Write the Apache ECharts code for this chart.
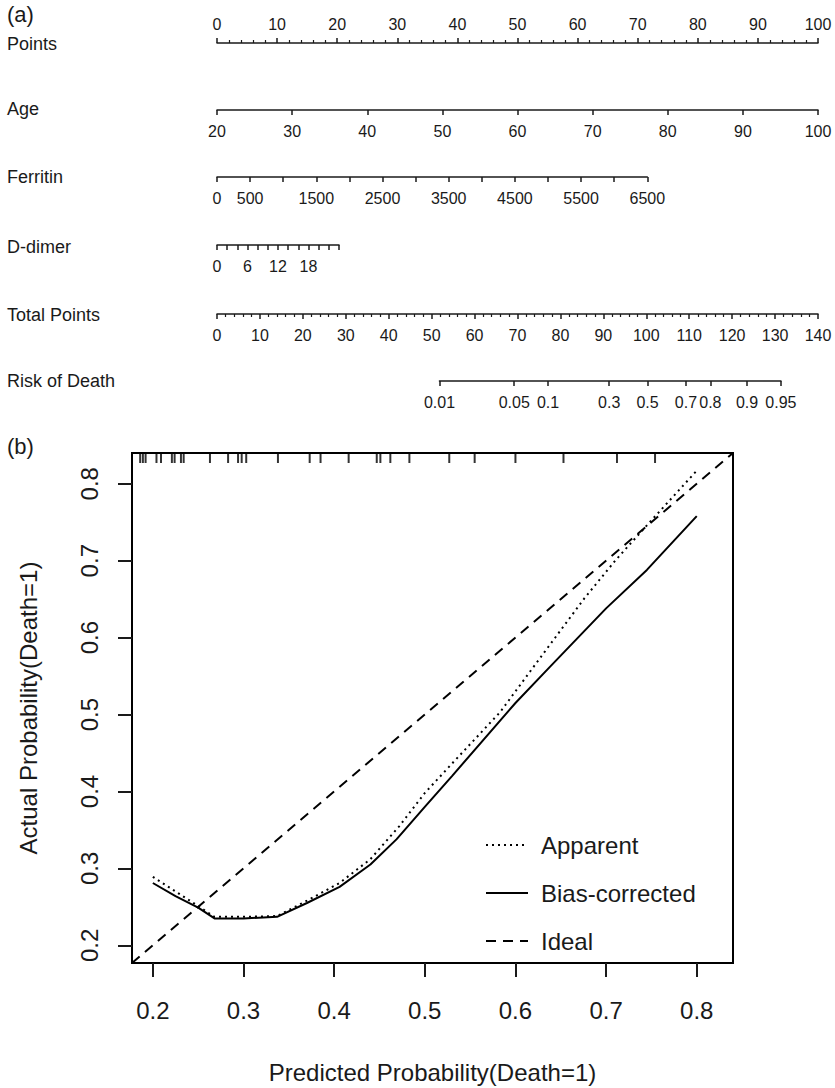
<!DOCTYPE html>
<html>
<head>
<meta charset="utf-8">
<script src="https://cdn.jsdelivr.net/npm/echarts@6/dist/echarts.min.js"></script>
<style>
  html, body { margin: 0; padding: 0; background: #fff; }
  #main { width: 835px; height: 1088px; }
</style>
</head>
<body>
<div id="main"></div>
<script>
// ---- (a) nomogram scales ----
const rowNames = ['Points', 'Age', 'Ferritin', 'D-dimer', 'Total Points', 'Risk of Death'];
const pointsRange = [0, 100];
const ageRange = [20, 100];
const ferritinRange = [0, 6500];
const ferritinLabels = [0, 500, 1500, 2500, 3500, 4500, 5500, 6500];
const ferritinMaxPoints = 71.6;   // points reached by ferritin 6500
const ddimerRange = [0, 24];
const ddimerLabels = [0, 6, 12, 18];
const ddimerMaxPoints = 20.3;     // points reached by d-dimer 24
const totalRange = [0, 140];
const riskValues = [0.01, 0.05, 0.1, 0.3, 0.5, 0.7, 0.8, 0.9, 0.95];
const riskAt50 = 100.3;           // total points where risk = 0.5
const riskPerLogit = 10.55;       // total points per logit unit

// ---- (b) calibration curve ----
const apparentX = [0.2, 0.225, 0.25, 0.268, 0.3, 0.337, 0.37, 0.406, 0.44, 0.472, 0.5, 0.533, 0.583, 0.63, 0.676, 0.71, 0.745, 0.8];
const apparentY = [0.289, 0.270, 0.251, 0.237, 0.237, 0.238, 0.258, 0.281, 0.312, 0.355, 0.398, 0.44, 0.503, 0.578, 0.651, 0.70, 0.746, 0.817];
const biasX = [0.2, 0.225, 0.25, 0.268, 0.3, 0.337, 0.37, 0.406, 0.44, 0.469, 0.5, 0.53, 0.6, 0.638, 0.7, 0.745, 0.8];
const biasY = [0.281, 0.264, 0.249, 0.235, 0.235, 0.237, 0.255, 0.276, 0.305, 0.338, 0.38, 0.42, 0.515, 0.562, 0.638, 0.688, 0.758];
const axisLims = [0.177, 0.84];
const probTicks = [0.2, 0.3, 0.4, 0.5, 0.6, 0.7, 0.8];
const rugX = [0.186, 0.189, 0.192, 0.204, 0.209, 0.221, 0.224, 0.231, 0.234, 0.263, 0.283, 0.294, 0.298, 0.303,
  0.338, 0.373, 0.385, 0.416, 0.447, 0.451, 0.462, 0.483, 0.527, 0.555, 0.600, 0.653, 0.712, 0.754];

const FONT = 'Liberation Sans, Arial, sans-serif';
const INK = '#1a1a1a';
const X0 = 217, W = 601;   // nomogram axis start and width of 100 points

const logit = p => Math.log(p / (1 - p));

let chart = echarts.init(document.getElementById('main'), null, { renderer: 'svg' });

// nomogram axis look
function nomoAxis(idx, range, opts) {
  return Object.assign({
    type: 'value', gridIndex: idx, min: range[0], max: range[1],
    position: 'bottom',
    axisLine: { show: true, lineStyle: { color: INK, width: 1.5 } },
    axisTick: { show: true, length: 5, lineStyle: { color: INK, width: 1.5 } },
    axisLabel: { show: true, fontSize: 16, color: INK, fontFamily: FONT, margin: 13, formatter: v => String(v) },
    splitLine: { show: false }
  }, opts);
}

let riskLo = riskAt50 + riskPerLogit * logit(riskValues[0]);
let riskHi = riskAt50 + riskPerLogit * logit(riskValues[riskValues.length - 1]);
let riskLogits = riskValues.map(logit);

let grids = [
  { left: X0, top: 42, width: W, height: 1 },
  { left: X0, top: 109, width: W, height: 1 },
  { left: X0, top: 176, width: W * ferritinMaxPoints / 100, height: 1 },
  { left: X0, top: 244, width: W * ddimerMaxPoints / 100, height: 1 },
  { left: X0, top: 313, width: W, height: 1 },
  { left: X0 + W * riskLo / 140, top: 380, width: W * (riskHi - riskLo) / 140, height: 1 },
  { left: 132, right: 102, top: 453, bottom: 125, show: true, borderColor: '#000', borderWidth: 2, backgroundColor: 'transparent' }
];

let xAxes = [
  nomoAxis(0, pointsRange, {
    position: 'top', interval: 10,
    axisLabel: { fontSize: 16, color: INK, fontFamily: FONT, margin: 10 },
    minorTick: { show: true, splitNumber: 5, length: 3, lineStyle: { color: INK, width: 1.2 } }
  }),
  nomoAxis(1, ageRange, { interval: 10 }),
  nomoAxis(2, ferritinRange, {
    interval: 500,
    axisLabel: { fontSize: 16, color: INK, fontFamily: FONT, margin: 13, customValues: ferritinLabels, formatter: v => String(v) }
  }),
  nomoAxis(3, ddimerRange, {
    interval: 2,
    axisLabel: { fontSize: 16, color: INK, fontFamily: FONT, margin: 13, customValues: ddimerLabels, formatter: v => String(v) }
  }),
  nomoAxis(4, totalRange, {
    interval: 10,
    minorTick: { show: true, splitNumber: 5, length: 3, lineStyle: { color: INK, width: 1.2 } }
  }),
  nomoAxis(5, [riskLogits[0], riskLogits[riskLogits.length - 1]], {
    axisTick: { show: true, length: 5, customValues: riskLogits, lineStyle: { color: INK, width: 1.5 } },
    axisLabel: {
      fontSize: 16, color: INK, fontFamily: FONT, margin: 13, customValues: riskLogits,
      formatter: v => {
        let i = riskLogits.findIndex(l => Math.abs(l - v) < 1e-6);
        return i >= 0 ? String(riskValues[i]) : '';
      }
    }
  }),
  {
    type: 'value', gridIndex: 6, min: axisLims[0], max: axisLims[1],
    name: 'Predicted Probability(Death=1)', nameLocation: 'middle', nameGap: 97,
    nameTextStyle: { fontSize: 24, color: INK, fontFamily: FONT },
    axisLine: { show: false },
    axisTick: { show: true, length: 14, customValues: probTicks, lineStyle: { color: INK, width: 2 } },
    axisLabel: { fontSize: 24, color: INK, fontFamily: FONT, margin: 35, customValues: probTicks, formatter: v => v.toFixed(1) },
    splitLine: { show: false }
  }
];

let yAxes = [0, 1, 2, 3, 4, 5].map(i => ({ type: 'value', gridIndex: i, min: 0, max: 1, show: false }));
yAxes.push({
  type: 'value', gridIndex: 6, min: axisLims[0], max: axisLims[1],
  name: 'Actual Probability(Death=1)', nameLocation: 'middle', nameGap: 92, nameRotate: 90,
  nameTextStyle: { fontSize: 24, color: INK, fontFamily: FONT },
  axisLine: { show: false },
  axisTick: { show: true, length: 14, customValues: probTicks, lineStyle: { color: INK, width: 2 } },
  axisLabel: { fontSize: 24, color: INK, fontFamily: FONT, margin: 31, rotate: 90, customValues: probTicks, formatter: v => v.toFixed(1) },
  splitLine: { show: false }
});

let apparentData = apparentX.map((x, i) => [x, apparentY[i]]);
let biasData = biasX.map((x, i) => [x, biasY[i]]);
let idealData = [[axisLims[0], axisLims[0]], [axisLims[1], axisLims[1]]];
let rugData = rugX.map(x => [x, axisLims[1]]);

let graphics = rowNames.map((name, i) => ({
  type: 'text', left: 7, top: [35, 100, 168, 238, 306, 372][i],
  style: { text: name, fontSize: 18, fill: INK, fontFamily: FONT }
}));
graphics.push({ type: 'text', left: 7, top: 3, style: { text: '(a)', fontSize: 22, fill: INK, fontFamily: FONT } });
graphics.push({ type: 'text', left: 7, top: 435, style: { text: '(b)', fontSize: 22, fill: INK, fontFamily: FONT } });

let option = {
  animation: false,
  backgroundColor: '#fff',
  textStyle: { fontFamily: FONT },
  grid: grids,
  xAxis: xAxes,
  yAxis: yAxes,
  graphic: graphics,
  legend: {
    data: ['Apparent', 'Bias-corrected', 'Ideal'],
    orient: 'vertical', left: 480, top: 828,
    itemWidth: 42, itemHeight: 14, itemGap: 24,
    itemStyle: { opacity: 0 },
    textStyle: { fontSize: 24, color: INK, fontFamily: FONT, padding: [0, 0, 0, 8] }
  },
  series: [
    {
      name: 'Apparent', type: 'line', xAxisIndex: 6, yAxisIndex: 6,
      data: apparentData, symbol: 'none',
      lineStyle: { color: '#000', width: 2, type: [2, 4] }, itemStyle: { color: '#000' }
    },
    {
      name: 'Bias-corrected', type: 'line', xAxisIndex: 6, yAxisIndex: 6,
      data: biasData, symbol: 'none',
      lineStyle: { color: '#000', width: 2 }, itemStyle: { color: '#000' }
    },
    {
      name: 'Ideal', type: 'line', xAxisIndex: 6, yAxisIndex: 6,
      data: idealData, symbol: 'none',
      lineStyle: { color: '#000', width: 2, type: [10, 7] }, itemStyle: { color: '#000' }
    },
    {
      name: 'rug', type: 'scatter', xAxisIndex: 6, yAxisIndex: 6,
      data: rugData, symbol: 'rect', symbolSize: [2, 10], symbolOffset: [0, 5],
      itemStyle: { color: '#000' }, silent: true
    }
  ]
};

chart.setOption(option);
</script>
</body>
</html>
